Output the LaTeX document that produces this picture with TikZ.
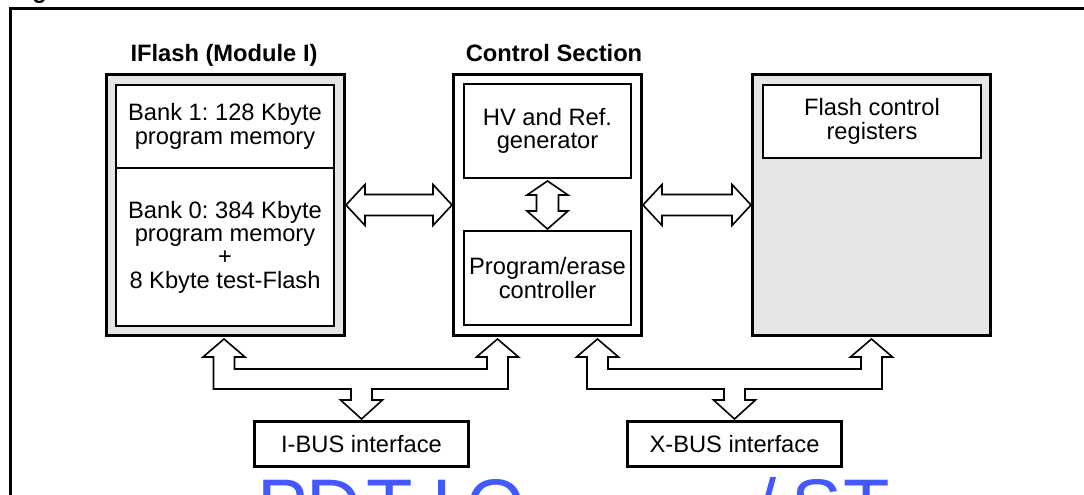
\documentclass[tikz,border=0pt]{standalone}
\usepackage{fontspec}
\setmainfont{Liberation Sans}
\usetikzlibrary{calc,positioning}
\definecolor{panelgray}{RGB}{229,229,229}
\definecolor{markblue}{RGB}{68,88,255}
\newcommand\boxfont{\fontsize{23.7}{23.3}\selectfont\frenchspacing}
\tikzset{
  panel/.style={draw, line width=3pt, minimum width=238pt, minimum height=261pt},
  block/.style={draw, fill=white, line width=2pt, align=center, inner sep=0pt,
    outer sep=0pt, minimum width=218pt},
  iface/.style={draw, line width=3pt, minimum width=214pt, minimum height=45pt, inner sep=0pt},
  heading/.style={font=\boxfont\bfseries, anchor=base},
  busarrow/.style={draw, fill=white, line width=1.6pt},
  wmark/.style={anchor=base west, inner sep=0pt, text=markblue,
    font=\fontsize{76}{76}\selectfont}
}

\begin{document}
\begin{tikzpicture}[x=1pt, y=-1pt, font=\boxfont]
  \useasboundingbox (0,0) rectangle (1084,495);
  \clip (0,0) rectangle (1084,495);

  % frame and cut caption
  \draw[line width=3pt] (10.5,495) -- (10.5,8.5) -- (1084,8.5);
  \node[heading, anchor=base west, inner sep=0pt] (figcap) at (11,-1) {Figure};

  % IFlash
  \node[panel, fill=panelgray] (iflash) at (225.5,205) {};
  \node[heading] (iflashtitle) at (224,62) {IFlash (Module I)};
  \node[block, minimum height=83pt] (bank1) at (225,126.5) {Bank 1: 128 Kbyte\\program memory};
  \node[block, minimum height=158pt, below=0pt of bank1] (bank0)
    {Bank 0: 384 Kbyte\\program memory\\+\\8 Kbyte test-Flash};

  % Control section
  \node[panel, minimum width=188pt] (ctrl) at (547.5,205) {};
  \node[heading] (ctrltitle) at (554,62) {Control Section};
  \node[block, minimum width=167pt, minimum height=94pt] (hv) at (547.5,131) {HV and Ref.\\generator};
  \node[block, minimum width=167pt, minimum height=94pt] (pe) at (547.5,278) {Program/erase\\controller};

  % Registers
  \node[panel, fill=panelgray] (regs) at (871.5,205) {};
  \node[block, minimum height=73pt] (fcr) at (872,121.5) {Flash control\\registers};

  % Bus interfaces
  \node[iface] (ibus) at (361.5,444) {I-BUS interface};
  \node[iface] (xbus) at (734.5,444) {X-BUS interface};

  % horizontal double arrows
  \foreach \a/\b in {iflash/ctrl, ctrl/regs}
    \draw[busarrow] (\a.east) -- ++(19,-20.5) -- ++(0,10) -- ($(\b.west)+(-19,-10.5)$)
      -- ++(0,-10) -- (\b.west) -- ++(-19,20.5) -- ++(0,-10)
      -- ($(\a.east)+(19,10.5)$) -- ++(0,10) -- cycle;

  % HV <-> program/erase
  \coordinate (hvtip) at ($(hv.south)+(0,3)$);
  \coordinate (petip) at ($(pe.north)+(0,-2)$);
  \draw[busarrow] (hvtip) -- ++(20.5,14) -- ++(-9.5,0) -- ($(petip)+(11,-18)$) -- ++(9.5,0)
    -- (petip) -- ++(-20.5,-18) -- ++(9.5,0) -- ($(hvtip)+(-11,14)$) -- ++(-9.5,0) -- cycle;

  % bus tips
  \coordinate (ibL) at ($(iflash.south)+(-1.5,2)$);
  \coordinate (ibR) at ($(ctrl.south)+(-50,2)$);
  \coordinate (ibD) at ($(ibus.north)+(0,-1)$);
  \coordinate (xbL) at ($(ctrl.south)+(50,2)$);
  \coordinate (xbR) at ($(regs.south)+(0,2)$);
  \coordinate (xbD) at ($(xbus.north)+(0,-1)$);

  \foreach \l/\r/\d in {ibL/ibR/ibD, xbL/xbR/xbD}
    \draw[busarrow] (\l) -- ++(21,18) -- ++(-10.5,0) |- ($(\r)+(-10.5,30)$) -- ++(0,-12)
      -- ++(-10.5,0) -- (\r) -- ++(21,18) -- ++(-10.5,0) -- ++(0,32)
      -- ($(\d)+(10.5,-30)$) -- ++(0,11) -- ++(10.5,0) -- (\d) -- ++(-21,-19)
      -- ++(10.5,0) -- ++(0,-11) -- ($(\l)+(-10.5,50)$) -- ++(0,-32) -- ++(-10.5,0) -- cycle;

  % watermark, cut by the page edge
  \foreach \ch/\px in {P/257, D/306, T/366, I/431, O/466, \slash/755, S/791, T/843}
    \node[wmark] (wm\px) at (\px,532) {\ch};
\end{tikzpicture}
\end{document}
